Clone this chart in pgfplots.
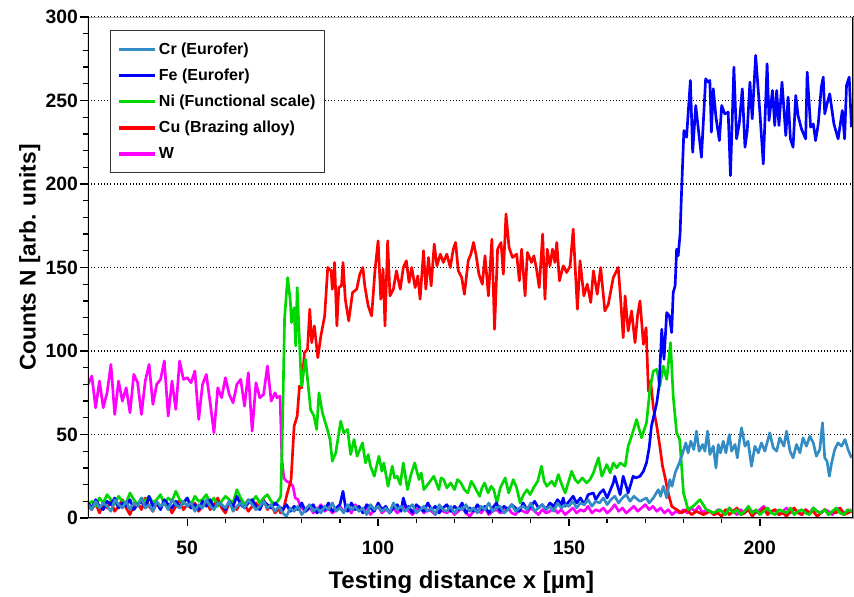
\documentclass[border=0pt]{standalone}
\usepackage{fontspec}
\setmainfont{Liberation Sans}
\usepackage{pgfplots}
\pgfplotsset{compat=1.18}
\definecolor{crcol}{RGB}{52,140,196}
\definecolor{fecol}{RGB}{0,0,255}
\definecolor{nicol}{RGB}{0,215,0}
\definecolor{cucol}{RGB}{255,0,0}
\definecolor{wcol}{RGB}{255,0,255}
\begin{document}
\begin{tikzpicture}
\begin{axis}[
  scale only axis,
  width=573.75pt, height=375.75pt,
  xmin=24, xmax=224.4, ymin=0, ymax=300,
  xtick={50,100,150,200}, minor x tick num=4,
  ytick={0,50,100,150,200,250,300}, minor y tick num=4,
  xtick pos=bottom, ytick pos=left,
  tick align=outside,
  major tick length=6pt, minor tick length=3.5pt,
  every tick/.style={black, line width=1pt},
  axis line style={draw=gray!70, line width=0.6pt},
  ymajorgrids,
  major grid style={black, dotted, line width=0.8pt},
  /pgf/number format/assume math mode=true,
  ticklabel style={font=\fontsize{14.5}{17}\selectfont\bfseries},
  xticklabel style={yshift=-8pt},
  yticklabel style={xshift=2pt},
  xlabel={Testing distance x [µm]},
  ylabel={Counts N [arb. units]},
  xlabel style={font=\fontsize{18}{21}\selectfont\bfseries, at={(axis description cs:0.488,-0.128)}, anchor=center},
  ylabel style={font=\fontsize{17}{20}\selectfont\bfseries, at={(axis description cs:-0.076,0.52)}, anchor=center, rotate=0},
  legend cell align=left,
  reverse legend,
  legend style={at={(axis description cs:0.0288,0.974)}, anchor=north west,
    draw=black!80, line width=0.6pt, fill=white,
    font=\fontsize{12}{14}\selectfont\bfseries,
    row sep=5.5pt, inner xsep=5pt, inner ysep=7pt},
  legend image code/.code={\draw[#1, line width=2.4pt] (0pt,0pt) -- (27pt,0pt);},
  every axis plot/.append style={line width=2pt, line join=round},
  clip=true,
]
\addplot[wcol] coordinates {
(24,80)(25,85)(26,66)(27,82)(28,66)(29,75)(30,92)(31,62)(32,82)(33,70)(34,78)(35,63)(36,86)(37,81)(38,62)(39,82)(40,92)(41,68)(42,80)(43,83)(44,94)(45,61)(46,82)(47,65)(48,94)(49,83)(50,84)(51,81)(52,88)(53,59)(54,80)(55,86)(56,69)(57,51)(58,78)(59,72)(60,84)(61,74)(62,69)(63,80)(64,83)(65,67)(66,87)(67,52)(68,81)(69,72)(70,74)(71,91)(72,70)(73,75)(73.5,72)(74.3,73)(74.8,35)(75.3,24)(76,22)(77,21)(77.7,19)(78.3,12)(79,11)(79.5,8)
(80,6)(81,4)(82,7)(83,3)(84,5)(85,8)(86,4)(87,6)(88,3)(89,5)(90,7)(91,4)(92,6)(93,3)(94,8)(95,5)(96,4)(97,6)(98,2)(99,5)(100,7)(101,3)(102,5)(103,4)(104,6)(105,3)(106,5)(107,7)(108,4)(109,2)(110,5)(111,6)(112,3)(113,5)(114,4)(115,2)(116,6)(117,4)(118,3)(119,5)(120,2)(121,4)(122,6)(123,3)(124,1)(125,4)(126,5)(127,3)(128,6)(129,2)(130,4)(131,5)(132,3)(133,4)(134,6)(135,3)(136,2)(137,5)(138,4)(139,3)(140,6)(141,4)(142,2)(143,5)(144,3)(145,4)(146,6)(147,3)(148,5)(149,2)(150,4)(151,6)(152,3)(153,5)(154,4)(155,7)(156,3)(157,5)(158,4)(159,6)(160,3)(161,5)(162,8)(163,4)(164,6)(165,3)(166,5)(167,7)(168,4)(169,6)(170,8)(171,5)(172,7)(173,4)(174,6)(175,3)(176,5)(177,2)(178,4)(179,3)(180,5)(181,3)(182,6)(183,4)(184,7)(185,3)(186,5)(187,4)(188,2)(189,5)(190,4)(191,3)(192,6)(193,4)(194,2)(195,5)(196,3)(197,6)(198,4)(199,3)(200,5)(201,7)(202,4)(203,3)(204,5)(205,2)(206,4)(207,6)(208,3)(209,5)(210,4)(211,2)(212,5)(213,3)(214,6)(215,4)(216,3)(217,5)(218,4)(219,2)(220,5)(221,6)(222,3)(223,4)(224,5)
};
\addlegendentry{W}
\addplot[cucol] coordinates {
(24,7)(25,5)(26,9)(27,3)(28,8)(29,6)(30,10)(31,4)(32,7)(33,11)(34,6)(35,2)(36,8)(37,9)(38,5)(39,12)(40,7)(41,4)(42,9)(43,6)(44,10)(45,8)(46,3)(47,7)(48,11)(49,5)(50,8)(51,6)(52,9)(53,4)(54,7)(55,10)(56,5)(57,8)(58,12)(59,6)(60,3)(61,9)(62,7)(63,5)(64,10)(65,8)(66,4)(67,7)(68,9)(69,6)(70,11)(71,5)(72,8)(73,3)(74,6)
(74.4,3)(75.2,5)(76,13)(77.2,23)(78,55)(78.8,61)(79.4,79)(80,78)(80.7,99)(81.5,101)(82.1,125)(82.6,105)(83.3,115)(84.2,96)(85,109)(86,121)(86.8,150)(87.7,148)(88,137)(88.6,153)(89.2,115)(89.7,138)(90.4,139)(90.8,153)(91.4,131)(92.3,118)(93.3,135)(94.4,137)(95.2,146)(96,150)(96.5,139)(97.4,127)(98.3,121)(99.2,149)(100,166)(100.7,131)(101.3,149)(101.8,115)(102.5,166)(103.1,133)(104,137)(104.8,148)(105.8,137)(106.6,150)(107.4,154)(108.1,141)(108.8,150)(109.7,138)(110.4,145)(111,131)(111.9,160)(112.5,137)(113.2,156)(113.9,139)(114.7,164)(115.4,151)(116.3,158)(117.1,153)(118,158)(118.9,150)(119.7,161)(120.3,165)(121,148)(121.9,144)(122.6,134)(123.6,154)(124.3,158)(125,165)(125.7,157)(126.4,146)(127.3,140)(128,157)(128.9,133)(129.8,167)(130.5,113)(131.3,161)(132.2,165)(132.8,146)(133.5,182)(134.3,162)(135.2,156)(136.3,158)(137,142)(137.6,161)(138.5,133)(139.1,159)(140.2,153)(140.8,157)(141.5,149)(142.2,138)(143.1,170)(143.7,131)(144.3,161)(145,151)(145.7,161)(146.3,153)(146.8,165)(147.5,142)(148.5,151)(149.4,147)(150.3,151)(151.1,173)(152.2,125)(152.9,154)(153.9,133)(154.8,140)(155.7,129)(156.4,148)(157.4,134)(158.3,150)(159.4,124)(160.3,128)(161.6,144)(162.9,150)(163.5,132)(164.2,108)(164.7,133)(165.5,112)(166.4,124)(167.3,105)(168,122)(168.6,130)(169.5,104)(170.2,114)(170.8,76)(171.4,82)(172.1,66)(173,55)(173.8,43)(174.5,31)(175.1,25)(176,15)(176.9,7)(178.2,5)(179.5,3)(180.8,5)(182.1,2)(183.4,4)(185.2,2)(186.9,4)(188,2)
(189,3)(190,1)(191,5)(192,2)(193,4)(194,6)(195,2)(196,3)(197,5)(198,1)(199,4)(200,3)(201,6)(202,2)(203,4)(204,5)(205,2)(206,3)(207,1)(208,4)(209,6)(210,3)(211,2)(212,5)(213,3)(214,4)(215,1)(216,3)(217,5)(218,2)(219,4)(220,3)(221,6)(222,2)(223,3)(224,4)
};
\addlegendentry{Cu (Brazing alloy)}
\addplot[nicol] coordinates {
(24,8)(25,10)(26,7)(27,12)(28,9)(29,14)(30,11)(31,8)(32,13)(33,10)(34,9)(35,15)(36,11)(37,8)(38,12)(39,10)(40,13)(41,9)(42,11)(43,14)(44,8)(45,12)(46,10)(47,16)(48,11)(49,9)(50,12)(51,8)(52,13)(53,10)(54,11)(55,14)(56,9)(57,12)(58,7)(59,10)(60,13)(61,11)(62,9)(63,17)(64,12)(65,8)(66,11)(67,10)(68,13)(69,9)(70,12)(71,14)(72,10)(73,8)(74,11)
(74.5,13)(75,60)(75.5,120)(76.3,144)(77,130)(77.3,117)(78,126)(78.4,103)(78.8,138)(79.9,79)(81,95)(82.3,65)(83.2,61)(83.9,53)(84.5,75)(85.4,63)(86.7,53)(87.4,47)(88,34)(88.9,39)(90.2,58)(91,51)(92,53)(92.8,38)(93.7,47)(94.5,37)(95.9,45)(96.7,33)(97.4,38)(98,31)(99,25)(100.2,37)(101,28)(101.5,33)(102.6,19)(103.7,31)(104.3,24)(105,25)(105.8,20)(106.6,33)(107.7,17)(108.6,26)(109.6,33)(110.7,23)(111.3,27)(112,17)(113.3,21)(114.6,25)(115.9,17)(116.5,24)(117.2,23)(118,18)(119,21)(120,17)(120.8,23)(121.7,21)(122.6,17)(123.5,15)(124.4,22)(125.2,19)(126.6,13)(127.2,18)(127.9,21)(128.8,15)(129.6,19)(130.3,17)(131.1,9)(132,18)(133.3,24)(134.2,15)(135.4,23)(136.3,18)(137.2,9)(138.1,14)(139,17)(139.8,14)(140.7,18)(141.8,22)(142.8,31)(143.5,22)(144.2,19)(145.5,22)(146.3,19)(147.2,26)(148.1,20)(149,15)(149.8,21)(150.7,28)(151.6,23)(152.4,21)(153.5,24)(154.6,21)(155.5,23)(156.4,27)(157.7,36)(158.6,25)(159.9,32)(160.8,27)(161.6,33)(162.5,30)(163.4,33)(164.7,31)(165.5,43)(166.4,49)(167.7,59)(169,48)(170.3,57)(171.2,77)(172.1,88)(173,89)(173.8,79)(174.7,91)(175.6,83)(176.6,105)(177.3,73)(178.2,51)(179,47)(180,15)(181.2,5)(182.5,7)(184.3,11)(186,5)(187.8,3)(189.5,5)
(190,4)(191,2)(192,6)(193,3)(194,5)(195,2)(196,4)(197,7)(198,3)(199,5)(200,2)(201,4)(202,6)(203,3)(204,2)(205,5)(206,4)(207,3)(208,6)(209,2)(210,4)(211,5)(212,3)(213,2)(214,6)(215,4)(216,3)(217,5)(218,2)(219,4)(220,6)(221,3)(222,2)(223,5)(224,4)
};
\addlegendentry{Ni (Functional scale)}
\addplot[fecol] coordinates {
(24,9)(25,6)(26,11)(27,7)(28,5)(29,10)(30,8)(31,12)(32,6)(33,9)(34,7)(35,11)(36,5)(37,8)(38,10)(39,6)(40,13)(41,7)(42,9)(43,5)(44,11)(45,8)(46,6)(47,10)(48,7)(49,9)(50,12)(51,6)(52,8)(53,5)(54,10)(55,7)(56,11)(57,6)(58,9)(59,8)(60,5)(61,10)(62,7)(63,13)(64,8)(65,6)(66,9)(67,11)(68,7)(69,5)(70,10)(71,8)(72,6)(73,9)(74,7)
(75,5)(76,8)(77,4)(78,7)(79,5)(80,9)(81,4)(82,6)(83,8)(84,3)(85,7)(86,5)(87,9)(88,4)(89,6)(90,8)(90.8,16)(91.5,6)(92,4)(93,9)(94,5)(95,7)(96,3)(97,8)(98,6)(99,4)(100,9)(101,5)(102,7)(103,3)(104,6)(105,8)(106,4)(106.6,12)(107.5,5)(108,7)(109,3)(110,8)(111,6)(112,4)(113,9)(114,5)(115,7)(116,3)(117,6)(118,8)(119,4)(120,7)(121,5)(122,9)(123,3)(124,6)(125,4)(126,8)(127,5)(128,7)(129,3)(130,6)(131,9)(132,4)(133,7)(134,5)(135,8)(136,6)(137,4)(138,9)(139,5)(140,7)(141,10)(142,6)(143,8)(144,5)(145,9)(146,7)(147,11)(148,8)(148.5,12)(149,7)(150,10)(151.1,13)(152,9)(153,12)(154,8)(155,14)(156.4,15)(157,11)(158.1,15)(159,17)(160,12)(161.6,21)(162,25)(163,17)(163.4,14)(164.2,25)(165,19)(165.5,15)(166.8,25)(167.5,24)(168.6,25)(169.5,28)(170.3,33)(171,42)(171.6,55)(172.3,62)(173,69)(173.6,79)(174.3,113)(174.9,95)(175.6,123)(176.3,121)(176.9,111)(177.3,135)(177.8,139)(178.2,161)(178.6,157)(179.1,170)(179.5,196)(180.1,232)(180.8,228)(181.8,262)(182.4,219)(183.2,247)(184.7,216)(185.8,263)(186.5,261)(186.9,262)(187.3,231)(187.8,257)(188.5,240)(189.4,226)(190,247)(190.8,242)(191.7,243)(192.3,205)(193.2,270)(193.9,227)(194.6,236)(195.4,257)(196.1,222)(196.7,232)(197.4,261)(198,239)(198.9,277)(200,243)(200.9,212)(201.9,272)(202.4,238)(203.3,256)(203.9,235)(204.4,256)(205,235)(205.8,261)(206.8,229)(207.4,252)(208,227)(208.7,222)(209.4,253)(210,241)(210.9,233)(212,227)(212.4,267)(213.3,234)(214,236)(214.6,226)(215.3,236)(216.1,258)(216.6,264)(217,242)(217.6,248)(218.3,254)(219.4,236)(220.5,227)(221.6,244)(222.2,227)(222.7,259)(223.4,264)(224,234)
};
\addlegendentry{Fe (Eurofer)}
\addplot[crcol] coordinates {
(24,8)(25,5)(26,10)(27,6)(28,9)(29,7)(30,4)(31,11)(32,8)(33,6)(34,10)(35,5)(36,9)(37,7)(38,12)(39,6)(40,8)(41,4)(42,10)(43,7)(44,9)(45,5)(46,11)(47,8)(48,6)(49,10)(50,7)(51,9)(52,4)(53,8)(54,6)(55,11)(56,7)(57,5)(58,9)(59,8)(60,6)(61,10)(62,4)(63,7)(64,9)(65,6)(66,11)(67,8)(68,5)(69,7)(70,10)(71,6)(72,8)(73,4)(74,7)
(75,3)(76,1)(77,6)(78,4)(79,7)(80,2)(81,5)(82,8)(83,4)(84,6)(85,3)(86,7)(87,5)(88,9)(89,4)(90,6)(91,3)(92,8)(93,5)(94,7)(95,4)(96,6)(97,2)(98,8)(99,5)(100,7)(101,4)(102,6)(103,3)(104,9)(105,5)(106,7)(107,4)(108,6)(109,8)(110,3)(111,5)(112,7)(113,4)(114,6)(115,2)(116,8)(117,5)(118,4)(119,7)(120,3)(121,6)(122,5)(123,8)(124,4)(125,6)(126,3)(127,7)(128,5)(129,9)(130,4)(131,6)(132,7)(133,3)(134,5)(135,8)(136,4)(137,6)(138,7)(139,5)(140,9)(141,4)(142,6)(143,8)(144,5)(145,7)(146,4)(147,9)(148,6)(149,8)
(150,7)(151,10)(152,6)(153,9)(154,8)(155,11)(156,7)(157,10)(158,9)(159,12)(160,8)(161,11)(162,13)(163,9)(164,12)(165,14)(166,10)(167,13)(168,11)
(168.6,10)(170.3,12)(171,9)(172.1,12)(173.4,17)(174,13)(174.7,19)(175.6,12)(176.4,23)(177,19)(177.8,27)(178.9,33)(179.8,39)(180.6,45)(181.2,39)(181.9,46)(182.7,41)(183.4,52)(184.1,40)(185,44)(185.6,40)(186.3,52)(186.9,38)(187.8,43)(188.5,30)(189.1,44)(189.7,39)(190.4,46)(191.1,39)(192,50)(192.6,40)(193.5,44)(194.1,36)(194.6,45)(195.2,54)(196.1,43)(196.9,46)(197.8,31)(198.7,43)(199.6,39)(200.4,45)(201.3,40)(202.6,51)(203.5,42)(204.4,40)(205.2,48)(206.3,43)(207,52)(207.9,40)(208.7,36)(209.6,44)(210.5,39)(211.3,48)(212.2,43)(213.1,49)(214,45)(214.8,37)(215.7,41)(216.4,57)(217,36)(217.6,34)(218.2,25)(218.8,33)(219.6,41)(220.5,45)(221.4,43)(222.3,47)(223.1,41)(224,36)
};
\addlegendentry{Cr (Eurofer)}
\coordinate (bl) at (rel axis cs:0,0);
\coordinate (tr) at (rel axis cs:1,1);
\draw[black, line width=1.9pt] (rel axis cs:0,1) -- (rel axis cs:0,0) -- (rel axis cs:1,0);
\draw[black, line width=1pt] (rel axis cs:1,0) -- (rel axis cs:1,1);
\end{axis}
\pgfresetboundingbox
\path ([shift={(-66pt,-59.25pt)}]bl) rectangle ([shift={(0.75pt,12.75pt)}]tr);
\end{tikzpicture}
\end{document}
